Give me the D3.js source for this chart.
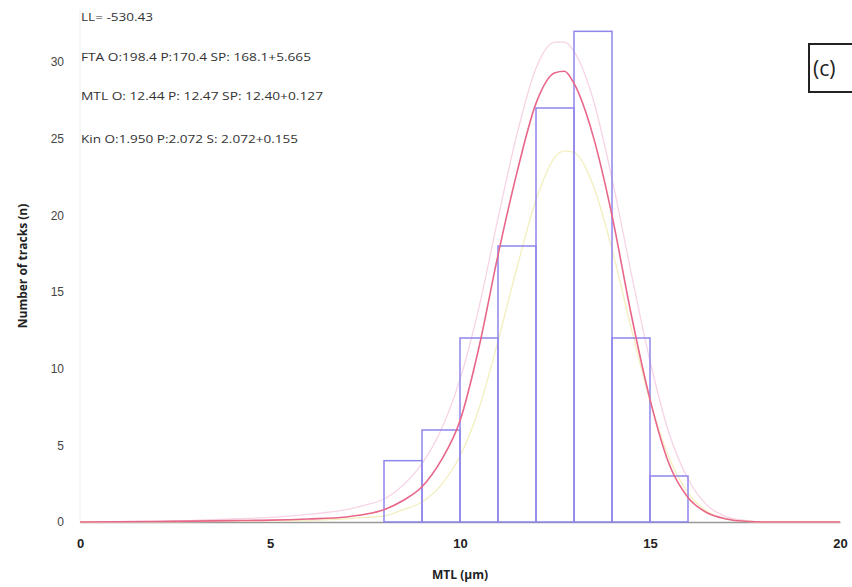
<!DOCTYPE html>
<html>
<head>
<meta charset="utf-8">
<script src="https://cdn.jsdelivr.net/npm/d3@7"></script>
<style>
  body { margin: 0; background: #fff; }
  svg { display: block; font-family: "Open Sans", "Noto Sans", sans-serif; }
</style>
</head>
<body>
<div id="chart"></div>
<script>
// histogram of track lengths (bin edges in um, counts)
var binLo = [8, 9, 10, 11, 12, 13, 14, 15];
var binHi = [9, 10, 11, 12, 13, 14, 15, 16];
var counts = [4, 6, 12, 18, 27, 32, 12, 3];

// fitted / predicted length distributions
var curveX =   [0, 2, 3, 4, 5, 6, 7, 7.5, 8, 8.5, 9, 9.5, 10, 10.5, 11, 11.5, 12, 12.5, 12.75, 13, 13.5, 14, 14.5, 15, 15.5, 16, 16.5, 17, 17.5, 18, 20];
var bestFit =  [0, 0.03, 0.06, 0.09, 0.12, 0.2, 0.33, 0.5, 0.8, 1.4, 2.3, 4.0, 6.6, 11.4, 17.4, 22.8, 27.3, 29.3, 29.4, 28.6, 25.2, 20.0, 13.6, 8.0, 3.8, 1.6, 0.6, 0.2, 0.05, 0, 0];
var upperFit = [0, 0.05, 0.1, 0.2, 0.3, 0.5, 0.8, 1.1, 1.5, 2.4, 3.8, 6.0, 9.3, 14.0, 19.8, 25.3, 29.6, 31.3, 31.3, 30.7, 27.6, 22.4, 16.3, 10.5, 5.8, 2.8, 1.1, 0.35, 0.1, 0, 0];
var lowerFit = [0, 0.01, 0.03, 0.05, 0.07, 0.1, 0.2, 0.3, 0.4, 0.8, 1.3, 2.4, 4.3, 7.4, 11.8, 16.6, 21.0, 23.8, 24.2, 24.1, 22.0, 17.8, 12.7, 7.9, 4.2, 1.9, 0.7, 0.2, 0.05, 0, 0];

var xTicks = [0, 5, 10, 15, 20];
var yTicks = [0, 5, 10, 15, 20, 25, 30];
var notes = [
  "LL= -530.43",
  "FTA O:198.4 P:170.4 SP: 168.1+5.665",
  "MTL O: 12.44 P: 12.47 SP: 12.40+0.127",
  "Kin O:1.950 P:2.072 S: 2.072+0.155"
];

var W = 852, H = 587;
var svg = d3.select("#chart").append("svg")
  .attr("width", W).attr("height", H);

var x = d3.scaleLinear().domain([0, 20]).range([80, 840]);
var y = d3.scaleLinear().domain([0, 30]).range([522, 62]);

// faint y axis line
svg.append("line")
  .attr("x1", 80).attr("x2", 80)
  .attr("y1", y(0)).attr("y2", 10)
  .attr("stroke", "#eeeeee").attr("stroke-width", 1);

// x axis
var xAxis = svg.append("g")
  .attr("transform", "translate(0," + y(0) + ")")
  .call(d3.axisBottom(x).tickValues(xTicks).tickSize(0).tickPadding(17));
xAxis.select(".domain").attr("stroke", "#999").attr("stroke-width", 1.5);
xAxis.selectAll("text")
  .attr("fill", "#222").style("font-size", "13px").style("font-weight", "bold");

// y axis labels only
var yAxis = svg.append("g")
  .attr("transform", "translate(80,0)")
  .call(d3.axisLeft(y).tickValues(yTicks).tickSize(0).tickPadding(16));
yAxis.select(".domain").remove();
yAxis.selectAll("text")
  .attr("fill", "#444").style("font-size", "12px");

// curves
var line = d3.line()
  .x(function (d) { return x(d[0]); })
  .y(function (d) { return y(d[1]); })
  .curve(d3.curveMonotoneX);

function drawCurve(vals, color, w) {
  svg.append("path")
    .datum(curveX.map(function (v, i) { return [v, vals[i]]; }))
    .attr("d", line)
    .attr("fill", "none")
    .attr("stroke", color)
    .attr("stroke-width", w);
}
drawCurve(upperFit, "#f7d3e6", 1.3);
drawCurve(lowerFit, "#f3efbd", 1.3);

// histogram bars
svg.selectAll("rect.bar")
  .data(counts)
  .enter()
  .append("rect")
  .attr("class", "bar")
  .attr("x", function (d, i) { return x(binLo[i]); })
  .attr("y", function (d) { return y(d); })
  .attr("width", function (d, i) { return x(binHi[i]) - x(binLo[i]); })
  .attr("height", function (d) { return y(0) - y(d); })
  .attr("fill", "none")
  .attr("stroke", "#8f86ec")
  .attr("stroke-width", 1.5);

drawCurve(bestFit, "#e8668a", 1.6);

// axis titles
svg.append("text")
  .attr("x", x(10)).attr("y", 579)
  .attr("text-anchor", "middle")
  .style("font-size", "12px").style("font-weight", "bold").attr("fill", "#222")
  .text("MTL (\u00b5m)");

svg.append("text")
  .attr("transform", "translate(27,266) rotate(-90)")
  .attr("text-anchor", "middle")
  .style("font-size", "12px").style("font-weight", "bold").attr("fill", "#222")
  .text("Number of tracks (n)");

// model notes
var noteY = [21, 61, 100, 143];
var noteW = [72, 230, 242, 217];
svg.selectAll("text.note")
  .data(notes)
  .enter()
  .append("text")
  .attr("class", "note")
  .attr("x", 81)
  .attr("y", function (d, i) { return noteY[i]; })
  .attr("textLength", function (d, i) { return noteW[i]; })
  .attr("lengthAdjust", "spacingAndGlyphs")
  .style("font-size", "10px").attr("fill", "#333")
  .text(function (d) { return d; });

// panel label
svg.append("rect")
  .attr("x", 809).attr("y", 44).attr("width", 50).attr("height", 48)
  .attr("fill", "#fff").attr("stroke", "#222").attr("stroke-width", 2);
svg.append("text")
  .attr("x", 813).attr("y", 76)
  .style("font-size", "21px").attr("fill", "#222")
  .text("(c)");
</script>
</body>
</html>
